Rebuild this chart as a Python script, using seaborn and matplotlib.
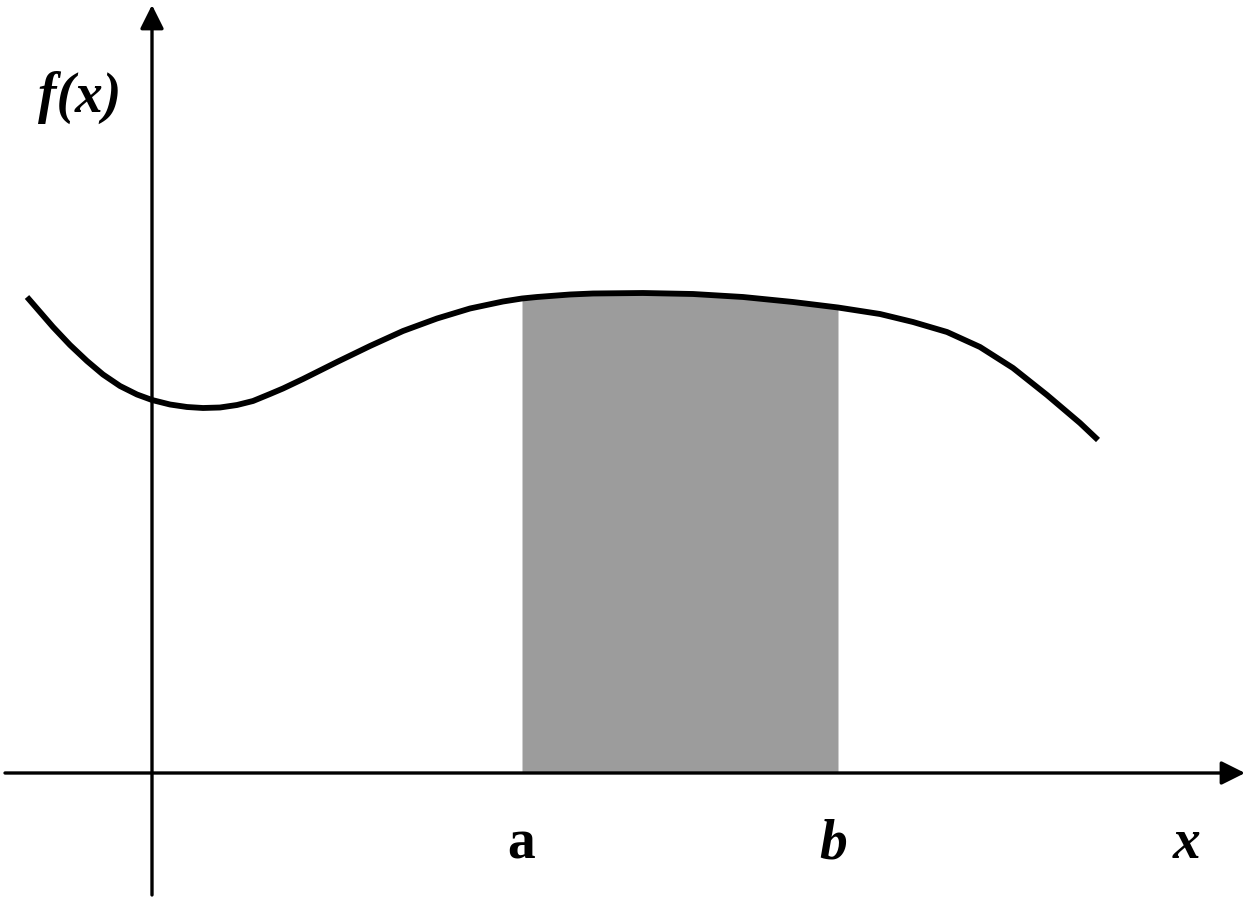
import numpy as np
import pandas as pd
import matplotlib
matplotlib.use("Agg")
import matplotlib.pyplot as plt
import seaborn as sns

# curve f(x) (units: origin at the axis crossing)
x_vals = [-1.25, -1.12, -0.99, -0.82, -0.65, -0.49, -0.32, -0.15, 0.00, 0.18,
          0.35, 0.51, 0.68, 0.85, 1.01, 1.18, 1.31, 1.51, 1.85, 2.18,
          2.51, 2.85, 3.18, 3.51, 3.70, 3.85, 4.18, 4.41, 4.91, 5.41,
          5.91, 6.41, 6.86, 7.28, 7.61, 7.95, 8.28, 8.61, 8.95, 9.28,
          9.46]
y_vals = [4.76, 4.61, 4.46, 4.28, 4.12, 3.985, 3.87, 3.785, 3.73, 3.685,
          3.66, 3.65, 3.655, 3.68, 3.72, 3.79, 3.845, 3.94, 4.11, 4.27,
          4.42, 4.545, 4.645, 4.715, 4.745, 4.76, 4.785, 4.795, 4.80, 4.79,
          4.76, 4.71, 4.655, 4.59, 4.51, 4.41, 4.26, 4.05, 3.78, 3.50,
          3.33]

# integration bounds
a_val = 3.70
b_val = 6.86

labels = {"fx": "f(x)", "a": "a", "b": "b", "x": "x"}

df = pd.DataFrame({"x": x_vals, "y": y_vals})

sns.set_style("white")
serif = ["Liberation Serif", "DejaVu Serif"]
plt.rcParams["font.family"] = serif

fig = plt.figure(figsize=(12.5, 9.05), dpi=100)
ax = fig.add_axes([0, 0, 1, 1])
ax.set_xlim(-1.52, 10.98)
ax.set_ylim(-1.32, 7.73)
ax.axis("off")

# shaded area under the curve between a and b
mask = (df["x"] >= a_val) & (df["x"] <= b_val)
ax.fill_between(df["x"][mask], 0, df["y"][mask], color="#9c9c9c", lw=0, zorder=1)

# the curve
sns.lineplot(data=df, x="x", y="y", ax=ax, color="black", lw=4.2, sort=False,
             solid_capstyle="butt", solid_joinstyle="round", zorder=3)

# axes with arrows
arrow = dict(arrowstyle="-|>,head_length=0.4,head_width=0.2", lw=2.4,
             color="black", mutation_scale=36, shrinkA=0, shrinkB=0)
ax.annotate("", xy=(10.93, 0), xytext=(-1.47, 0), arrowprops=arrow, zorder=2)
ax.annotate("", xy=(0, 7.68), xytext=(0, -1.22), arrowprops=arrow, zorder=2)

# labels
text_kw = dict(fontsize=40, fontweight="bold", ha="center", va="baseline",
               color="black", family=serif)
ax.text(-0.72, 6.61, labels["fx"], fontstyle="italic", **text_kw)
ax.text(a_val - 0.01, -0.85, labels["a"], **text_kw)
ax.text(b_val - 0.05, -0.85, labels["b"], fontstyle="italic", **text_kw)
ax.text(10.35, -0.85, labels["x"], fontstyle="italic", **text_kw)

fig.savefig("out.png", dpi=100)
